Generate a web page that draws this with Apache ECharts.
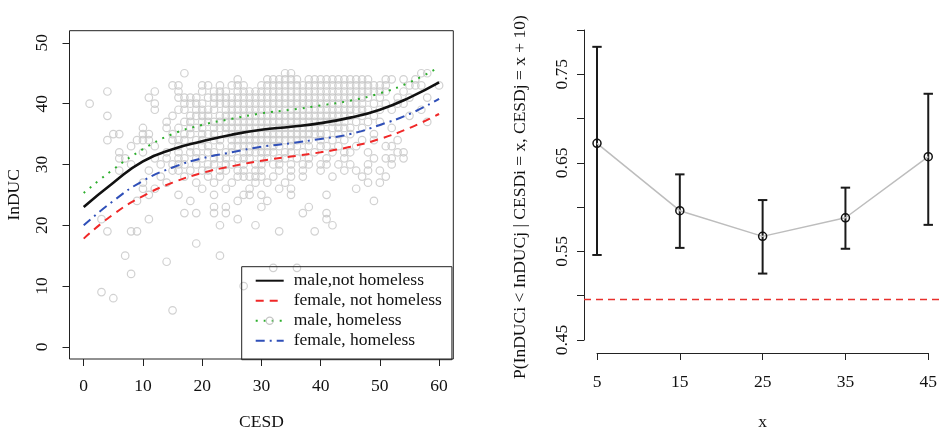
<!DOCTYPE html>
<html><head><meta charset="utf-8">
<script src="https://cdn.jsdelivr.net/npm/echarts@6/dist/echarts.min.js"></script>
<style>html,body{margin:0;padding:0;background:#fff}#c{width:940px;height:436px}</style>
</head><body><div id="c"></div>
<script>
const FONT = 'Liberation Serif';

// ---- left panel data ----
const cesdGrid = [0, 5, 10, 15, 20, 25, 30, 35, 40, 45, 50, 55, 60];
const maleNotHomeless   = [23.0, 27.0, 30.5, 32.5, 33.8, 34.9, 35.7, 36.2, 36.8, 37.7, 39.0, 41.0, 43.5];
const femaleNotHomeless = [17.8, 21.8, 24.8, 27.0, 28.6, 29.7, 30.6, 31.3, 32.0, 32.9, 34.2, 36.0, 38.3];
const maleHomeless      = [25.3, 29.2, 32.5, 35.0, 36.5, 37.5, 38.4, 39.0, 39.7, 40.5, 41.7, 43.5, 46.0];
const femaleHomeless    = [20.0, 24.0, 27.3, 29.5, 31.0, 32.0, 32.9, 33.5, 34.2, 35.0, 36.5, 38.3, 40.8];
const legendNames = ['male,not homeless', 'female, not homeless', 'male, homeless', 'female, homeless'];
const xTicksLeft = [0, 10, 20, 30, 40, 50, 60];
const yTicksLeft = [0, 10, 20, 30, 40, 50];

// observed points: [InDUC value, list of CESD values]
const scatterRows = [
  [45, [17, 34, 35, 57, 58]],
  [44, [26, 31, 32, 33, 34, 35, 36, 38, 39, 40, 41, 42, 43, 44, 45, 46, 47, 48, 51, 52, 54, 56]],
  [43, [15, 16, 20, 21, 23, 25, 26, 27, 30, 31, 32, 33, 34, 35, 36, 37, 38, 39, 40, 41, 42, 43, 44, 45, 46, 47, 48, 49, 50, 51, 55, 56, 57, 60]],
  [42, [4, 12, 16, 20, 22, 23, 24, 26, 27, 28, 29, 30, 31, 32, 33, 34, 35, 36, 37, 38, 39, 40, 41, 42, 43, 44, 45, 46, 47, 48, 49, 50, 51, 54]],
  [41, [11, 16, 17, 18, 19, 21, 22, 23, 24, 25, 26, 27, 28, 29, 30, 31, 32, 33, 34, 35, 36, 37, 38, 39, 40, 41, 42, 43, 44, 45, 46, 47, 48, 50, 53, 55, 58]],
  [40, [1, 12, 17, 18, 19, 20, 22, 23, 24, 25, 26, 27, 28, 29, 30, 31, 32, 33, 34, 35, 36, 37, 38, 39, 40, 41, 42, 43, 44, 45, 46, 47, 49, 51, 53, 54]],
  [39, [12, 16, 17, 19, 20, 21, 22, 24, 25, 26, 27, 28, 29, 30, 31, 32, 33, 34, 35, 36, 37, 38, 39, 40, 41, 42, 43, 44, 45, 46, 47, 48, 50, 52, 57]],
  [38, [4, 15, 18, 19, 20, 21, 23, 24, 25, 26, 27, 28, 29, 30, 31, 32, 33, 34, 35, 36, 37, 38, 39, 40, 41, 42, 43, 44, 45, 47, 49, 55]],
  [37, [14, 17, 18, 20, 21, 22, 23, 24, 25, 26, 27, 28, 29, 30, 31, 32, 33, 34, 35, 36, 37, 38, 39, 40, 41, 42, 43, 44, 46, 48, 50, 58]],
  [36, [10, 14, 16, 18, 19, 20, 22, 23, 24, 25, 26, 27, 28, 29, 30, 31, 32, 33, 34, 35, 36, 37, 38, 39, 40, 42, 43, 44, 45, 47, 52]],
  [35, [5, 6, 10, 11, 15, 17, 18, 20, 21, 22, 24, 25, 26, 27, 28, 29, 30, 31, 32, 33, 34, 35, 36, 37, 38, 39, 40, 41, 43, 45, 49]],
  [34, [4, 9, 10, 11, 15, 16, 17, 19, 20, 22, 23, 25, 26, 27, 28, 29, 30, 31, 32, 33, 34, 35, 36, 37, 38, 40, 42, 44, 47, 49, 53]],
  [33, [8, 12, 16, 18, 20, 21, 23, 25, 26, 27, 28, 29, 30, 31, 32, 33, 35, 36, 38, 40, 41, 43, 46, 51, 52]],
  [32, [6, 10, 14, 16, 18, 19, 21, 22, 24, 25, 27, 28, 29, 30, 31, 32, 34, 35, 37, 39, 42, 44, 45, 48, 53, 54]],
  [31, [6, 7, 12, 14, 16, 17, 19, 20, 22, 23, 24, 26, 27, 28, 30, 31, 33, 34, 36, 38, 41, 44, 49, 51, 52, 54]],
  [30, [8, 13, 15, 16, 17, 19, 21, 22, 24, 25, 27, 29, 30, 32, 33, 35, 37, 38, 40, 41, 43, 45, 48, 52]],
  [29, [6, 11, 15, 16, 18, 20, 21, 23, 24, 26, 27, 29, 30, 33, 35, 37, 40, 44, 46, 48, 50]],
  [28, [13, 17, 21, 23, 26, 27, 28, 29, 30, 32, 35, 37, 42, 47, 51]],
  [27, [10, 14, 19, 22, 25, 29, 31, 34, 48, 50]],
  [26, [10, 12, 20, 24, 28, 33, 35, 46]],
  [25, [11, 16, 22, 27, 28, 30, 35, 41]],
  [24, [9, 18, 26, 31, 49]],
  [23, [22, 24, 30, 38]],
  [22, [17, 19, 22, 24, 37, 41]],
  [21, [3, 11, 26, 41]],
  [20, [23, 29, 42]],
  [19, [4, 8, 9, 33, 39]],
  [17, [19]],
  [15, [7, 23]],
  [14, [14]],
  [13, [32, 36]],
  [12, [8]],
  [10, [27]],
  [9, [3]],
  [8, [5]],
  [6, [15]]
];

// ---- right panel data ----
const probX     = [5, 15, 25, 35, 45];
const probEst   = [0.672, 0.596, 0.567, 0.588, 0.657];
const probLower = [0.546, 0.554, 0.525, 0.553, 0.580];
const probUpper = [0.781, 0.637, 0.608, 0.622, 0.728];
const refLine = 0.5;

const scatterData = scatterRows.flatMap(([v, cs]) => cs.map(c => [c, v]));
const curve = arr => cesdGrid.map((x, i) => [x, arr[i]]);

const txt = { fontFamily: FONT, fontSize: 17.5, color: '#111' };
const axisCol = '#222';
const pointGray = '#c6c6c6';

const chart = echarts.init(document.getElementById('c'), null, { renderer: 'canvas' });
chart.setOption({
  animation: false,
  backgroundColor: '#fff',
  textStyle: { fontFamily: FONT },
  grid: [
    { left: 69.5, top: 30.7, width: 383.8, height: 328.3, show: true, borderColor: axisCol, borderWidth: 1, backgroundColor: 'transparent' },
    { left: 597, top: 30, width: 332, height: 314 },
    { left: 584, top: 30, width: 356, height: 314 }
  ],
  xAxis: [
    { gridIndex: 0, type: 'value', min: -2.4, max: 62.4, position: 'bottom',
      axisLine: { show: false, onZero: false }, splitLine: { show: false },
      axisTick: { show: true, length: 7, customValues: xTicksLeft, lineStyle: { color: axisCol } },
      axisLabel: { customValues: xTicksLeft, margin: 18, ...txt },
      name: 'CESD', nameLocation: 'middle', nameGap: 54, nameTextStyle: txt },
    { gridIndex: 1, type: 'value', min: 5, max: 45, interval: 10, offset: 13, position: 'bottom',
      axisLine: { show: true, onZero: false, lineStyle: { color: axisCol, width: 1 } }, splitLine: { show: false },
      axisTick: { show: true, length: 7, lineStyle: { color: axisCol } },
      axisLabel: { margin: 20, ...txt },
      name: 'x', nameLocation: 'middle', nameGap: 60, nameTextStyle: txt },
    { gridIndex: 2, type: 'value', min: 0, max: 1, show: false }
  ],
  yAxis: [
    { gridIndex: 0, type: 'value', min: -2, max: 52, position: 'left',
      axisLine: { show: false, onZero: false }, splitLine: { show: false },
      axisTick: { show: true, length: 7, customValues: yTicksLeft, lineStyle: { color: axisCol } },
      axisLabel: { customValues: yTicksLeft, margin: 18, rotate: 90, ...txt },
      name: 'InDUC', nameLocation: 'middle', nameGap: 46, nameTextStyle: txt },
    { gridIndex: 1, type: 'value', min: 0.45, max: 0.80, interval: 0.05, offset: 13, position: 'left',
      axisLine: { show: true, onZero: false, lineStyle: { color: axisCol, width: 1 } }, splitLine: { show: false },
      axisTick: { show: true, length: 7, lineStyle: { color: axisCol } },
      axisLabel: { rotate: 90, margin: 13, ...txt,
        formatter: v => (Math.round(v * 100) % 10 === 5 ? v.toFixed(2) : '') },
      name: 'P(InDUCi < InDUCj | CESDi = x, CESDj = x + 10)', nameLocation: 'middle', nameGap: 55,
      nameTextStyle: { ...txt, padding: [0, 24, 0, 0] } },
    { gridIndex: 2, type: 'value', min: 0.45, max: 0.80, show: false }
  ],
  legend: {
    data: [
      { name: legendNames[0] },
      { name: legendNames[1] },
      { name: legendNames[2], itemStyle: { opacity: 1, color: 'rgba(0,0,0,0)', borderColor: pointGray, borderWidth: 1.2 } },
      { name: legendNames[3] }
    ],
    orient: 'vertical', left: 241.7, top: 266.7,
    itemWidth: 28, itemHeight: 9, itemGap: 0, padding: [4, 10, 9, 13],
    borderColor: axisCol, borderWidth: 1, borderRadius: 0, selectedMode: false,
    itemStyle: { opacity: 0 },
    textStyle: { ...txt, lineHeight: 20, padding: [0, 0, 0, 5] }
  },
  series: [
    { type: 'scatter', xAxisIndex: 0, yAxisIndex: 0, data: scatterData, symbol: 'circle', symbolSize: 7.5,
      itemStyle: { color: 'rgba(0,0,0,0)', borderColor: pointGray, borderWidth: 1.2 }, z: 1, silent: true },
    { type: 'line', name: legendNames[0], xAxisIndex: 0, yAxisIndex: 0, data: curve(maleNotHomeless), smooth: true,
      symbol: 'none', lineStyle: { color: '#111', width: 2.6 }, itemStyle: { color: '#111' }, z: 5 },
    { type: 'line', name: legendNames[1], xAxisIndex: 0, yAxisIndex: 0, data: curve(femaleNotHomeless), smooth: true,
      symbol: 'none', lineStyle: { color: '#f02828', width: 2, type: [8, 6] }, itemStyle: { color: '#f02828' }, z: 5 },
    { type: 'line', name: legendNames[2], xAxisIndex: 0, yAxisIndex: 0, data: curve(maleHomeless), smooth: true,
      symbol: 'none', lineStyle: { color: '#2cae2c', width: 2, type: [2, 6] }, itemStyle: { color: '#2cae2c' }, z: 5 },
    { type: 'line', name: legendNames[3], xAxisIndex: 0, yAxisIndex: 0, data: curve(femaleHomeless), smooth: true,
      symbol: 'none', lineStyle: { color: '#2f4fb8', width: 2, type: [9, 5, 2, 5] }, itemStyle: { color: '#2f4fb8' }, z: 5 },
    // right panel
    { type: 'line', xAxisIndex: 2, yAxisIndex: 2, data: [], silent: true,
      markLine: { symbol: 'none', silent: true, label: { show: false }, animation: false,
        lineStyle: { color: '#e8302c', width: 1.4, type: [7, 5] }, data: [{ yAxis: refLine }] } },
    { type: 'custom', xAxisIndex: 1, yAxisIndex: 1, clip: false, z: 3,
      data: probX.map((x, i) => [x, probLower[i], probUpper[i]]),
      renderItem: (params, api) => {
        const x = api.value(0);
        const lo = api.coord([x, api.value(1)]);
        const hi = api.coord([x, api.value(2)]);
        const w = 4.7;
        const st = { stroke: '#1a1a1a', lineWidth: 2 };
        return { type: 'group', children: [
          { type: 'line', shape: { x1: lo[0], y1: lo[1], x2: hi[0], y2: hi[1] }, style: st },
          { type: 'line', shape: { x1: lo[0] - w, y1: lo[1], x2: lo[0] + w, y2: lo[1] }, style: st },
          { type: 'line', shape: { x1: hi[0] - w, y1: hi[1], x2: hi[0] + w, y2: hi[1] }, style: st }
        ] };
      } },
    { type: 'line', xAxisIndex: 1, yAxisIndex: 1, clip: false, z: 4,
      data: probX.map((x, i) => [x, probEst[i]]),
      symbol: 'circle', symbolSize: 8, showSymbol: true,
      lineStyle: { color: '#bdbdbd', width: 1.5 },
      itemStyle: { color: 'rgba(0,0,0,0)', borderColor: '#111', borderWidth: 1.5 } }
  ]
});
</script>
</body></html>
